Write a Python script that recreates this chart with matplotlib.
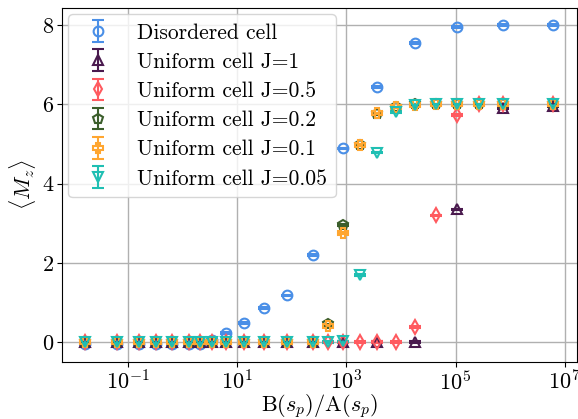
import matplotlib
matplotlib.use("Agg")
import matplotlib.pyplot as plt
import numpy as np

plt.rcParams['font.family'] = 'serif'
plt.rcParams['font.serif'] = ['cmr10']
plt.rcParams['mathtext.fontset'] = 'cm'
plt.rcParams['axes.formatter.use_mathtext'] = True
plt.rcParams['axes.unicode_minus'] = False

# B/A values
x_low = [0.0163, 0.063, 0.159, 0.326, 0.64, 1.31, 2.08, 3.45, 6.2, 13.3, 31, 82, 244]
zeros_low = [0.0] * len(x_low)

x_dis = x_low + [867, 3630, 18000, 106000, 738000, 6.08e6]
y_dis = [-0.05, -0.05, -0.05, -0.05, -0.05, -0.05, -0.05, 0.05, 0.23, 0.49, 0.86, 1.18, 2.2,
         4.89, 6.43, 7.55, 7.95, 8.0, 8.0]

x_j1 = x_low + [867, 3630, 18000, 106000, 738000, 6.08e6]
y_j1 = zeros_low + [0.0, 0.0, 0.0, 3.35, 5.9, 5.95]

x_j05 = x_low + [460, 867, 1775, 3630, 8090, 18000, 43700, 106000, 269000, 738000, 6.08e6]
y_j05 = zeros_low + [0.0, 0.0, 0.0, 0.0, 0.0, 0.39, 3.2, 5.73, 6.0, 6.0, 6.0]

x_j02 = x_low + [460, 867, 1775, 3630, 8090, 18000, 43700, 106000, 269000, 738000, 6.08e6]
y_j02 = zeros_low + [0.45, 2.95, 4.97, 5.75, 5.92, 6.0, 6.0, 6.0, 6.0, 6.0, 6.0]

x_j01 = x_low + [460, 867, 1775, 3630, 8090, 18000, 43700, 106000, 269000, 738000, 6.08e6]
y_j01 = zeros_low + [0.42, 2.76, 4.97, 5.77, 5.92, 5.98, 6.0, 6.0, 6.0, 6.0, 6.0]

x_j005 = x_low + [460, 867, 1775, 3630, 8090, 18000, 43700, 106000, 269000, 738000, 6.08e6]
y_j005 = zeros_low + [0.0, 0.02, 1.69, 4.78, 5.81, 5.98, 6.0, 6.0, 6.0, 6.0, 6.0]

series = [
    (x_dis, y_dis, 'o', '#4a8fe7', 'Disordered cell'),
    (x_j1, y_j1, '^', '#4a1a4e', 'Uniform cell J=1'),
    (x_j05, y_j05, 'd', '#ff5a5f', 'Uniform cell J=0.5'),
    (x_j02, y_j02, 'p', '#3b5e2b', 'Uniform cell J=0.2'),
    (x_j01, y_j01, 'P', '#ffa630', 'Uniform cell J=0.1'),
    (x_j005, y_j005, 'v', '#1fbfb3', 'Uniform cell J=0.05'),
]

fig = plt.figure(figsize=(5.78, 4.19), dpi=100)
ax = fig.add_axes([0.107, 0.136, 0.891, 0.845])

for x, y, m, c, lab in series:
    ax.errorbar(x, y, yerr=0.02, fmt=m, color=c, mfc='none', mec=c, ms=7, mew=1.5,
                capsize=4, elinewidth=1.5, capthick=1.5, label=lab)

ax.set_xscale('log')
ax.set_xlim(10 ** -2.21, 10 ** 7.22)
ax.set_ylim(-0.5, 8.43)
ax.set_xticks([1e-1, 1e1, 1e3, 1e5, 1e7])
ax.xaxis.set_minor_locator(matplotlib.ticker.NullLocator())
ax.set_yticks([0, 2, 4, 6, 8])
ax.tick_params(labelsize=16, pad=2)
ax.grid(True, color='#b0b0b0', linewidth=1.0)
ax.set_axisbelow(True)

ax.set_xlabel(r'B$(s_p)$/A$(s_p)$', fontsize=16, labelpad=-1)
ax.set_ylabel(r'$\langle M_z \rangle$', fontsize=16, labelpad=3)

ax.legend(loc='upper left', fontsize=15.5, framealpha=0.8, borderaxespad=0.3,
          labelspacing=0.45)

fig.savefig('out.png', dpi=100)
